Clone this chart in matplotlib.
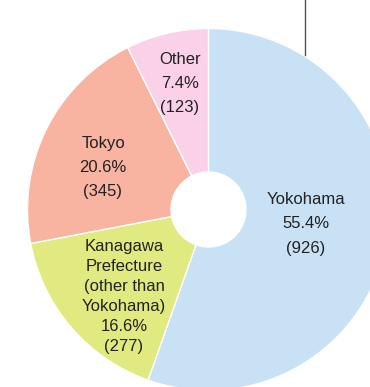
import matplotlib.pyplot as plt

plt.rcParams['font.family'] = ['Liberation Sans', 'DejaVu Sans']

regions = ['Yokohama', 'Kanagawa\nPrefecture\n(other than\nYokohama)', 'Tokyo', 'Other']
counts = [926, 277, 345, 123]
colors = ['#c8e1f5', '#e0ea80', '#f8b3a1', '#fad1e8']

W, H = 370, 387
total = sum(counts)

fig = plt.figure(figsize=(W / 100, H / 100), dpi=100)
ax = fig.add_axes([0, 0, 1, 1])

cx, cy = 208.5, H - 209.5
R, r_hole = 181, 37.5
ax.pie(counts, colors=colors, startangle=90, counterclock=False,
       radius=R, center=(cx, cy),
       wedgeprops=dict(width=R - r_hole, edgecolor='white', linewidth=1))

# label block positions (x, y from top) and line spacing
label_pos = [(306, 224, 1.78), (124, 296.5, 1.42), (103, 167.5, 1.78), (180, 83.5, 1.78)]
for name, n, (x, y, ls) in zip(regions, counts, label_pos):
    pct = 100 * n / total
    ax.text(x, H - y, f'{name}\n{pct:.1f}%\n({n})', ha='center', va='center',
            fontsize=12, color='#222222', linespacing=ls)

# leader line at the top
ax.plot([304.5, 304.5], [H, H - 55], color='#555555', lw=1)

ax.set_xlim(0, W)
ax.set_ylim(0, H)
ax.set_aspect('auto')
ax.axis('off')

fig.savefig('out.png', dpi=100)
